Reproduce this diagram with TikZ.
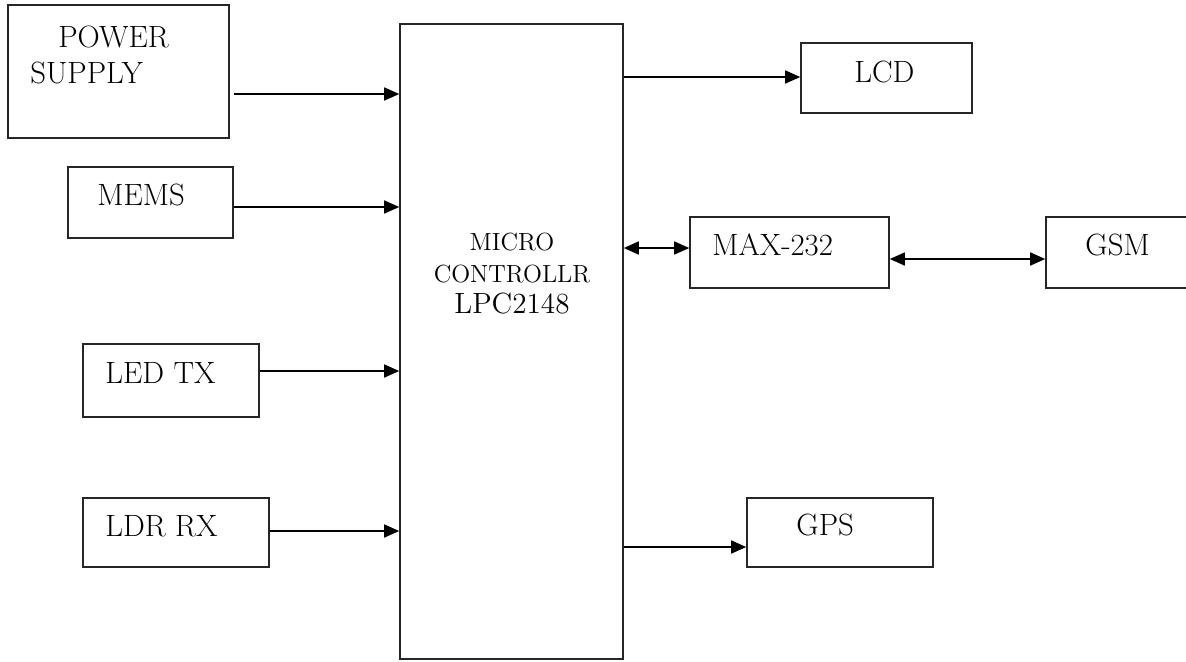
\documentclass[tikz,border=0pt]{standalone}
\usetikzlibrary{arrows.meta,fit}
\begin{document}
\begin{tikzpicture}[x=0.5pt,y=-0.5pt,
  box/.style={draw=black!85, line width=0.8pt, inner sep=0pt},
  lbl/.style={anchor=base west, inner sep=0pt, font=\fontsize{15.4}{18}\selectfont},
  clbl/.style={anchor=base, inner sep=0pt},
  tip/.tip={Triangle[length=7.5pt,width=6.5pt]},
  arr/.style={line width=0.8pt, -tip},
  darr/.style={line width=0.8pt, tip-tip}]
\clip (0,0) rectangle (1186,661);
\fill[white] (0,0) rectangle (1186,661);
% boxes
\node[box, fit={(8,5) (229,138)}] (ps) {};
\node[box, fit={(68,167) (233,238)}] (mems) {};
\node[box, fit={(83,344) (259,417)}] (led) {};
\node[box, fit={(83,498) (269,567)}] (ldr) {};
\node[box, fit={(400,24) (623,659)}] (mc) {};
\node[box, fit={(801,43) (972,113)}] (lcd) {};
\node[box, fit={(690,217) (889,288)}] (max) {};
\node[box, fit={(1046,217) (1200,288)}] (gsm) {};
\node[box, fit={(747,498) (933,567)}] (gps) {};
% labels
\node[lbl] (tpow) at (58,47) {POWER};
\node[lbl] (tsup) at (30,83) {SUPPLY};
\node[lbl] (tmems) at (97,205) {MEMS};
\node[lbl] (tled) at (105,383) {LED TX};
\node[lbl] (tldr) at (105,536) {LDR RX};
\node[clbl, font=\fontsize{12.4}{15}\selectfont] (tmic) at (512,250) {MICRO};
\node[clbl, font=\fontsize{12.4}{15}\selectfont] (tcon) at (512,282) {CONTROLLR};
\node[clbl, font=\fontsize{14.6}{17}\selectfont] (tlpc) at (512,313) {LPC2148};
\node[lbl] (tlcd) at (854,82) {LCD};
\node[lbl] (tmax) at (712,255) {MAX-232};
\node[lbl] (tgsm) at (1085,255) {GSM};
\node[lbl] (tgps) at (796,535) {GPS};
% y levels of connectors
\coordinate (yps) at (0,94);
\coordinate (ymems) at (0,207);
\coordinate (yled) at (0,371);
\coordinate (yldr) at (0,531);
\coordinate (ylcd) at (0,77);
\coordinate (ymax) at (0,248);
\coordinate (ygsm) at (0,259);
\coordinate (ygps) at (0,547);
% connectors
\draw[arr] ([xshift=2pt]ps.east |- yps) -- (mc.west |- yps);
\draw[arr] (mems.east |- ymems) -- (mc.west |- ymems);
\draw[arr] (led.east |- yled) -- (mc.west |- yled);
\draw[arr] (ldr.east |- yldr) -- (mc.west |- yldr);
\draw[arr] (mc.east |- ylcd) -- (lcd.west |- ylcd);
\draw[darr] (mc.east |- ymax) -- (max.west |- ymax);
\draw[darr] (max.east |- ygsm) -- (gsm.west |- ygsm);
\draw[arr] (mc.east |- ygps) -- (gps.west |- ygps);
\end{tikzpicture}
\end{document}
